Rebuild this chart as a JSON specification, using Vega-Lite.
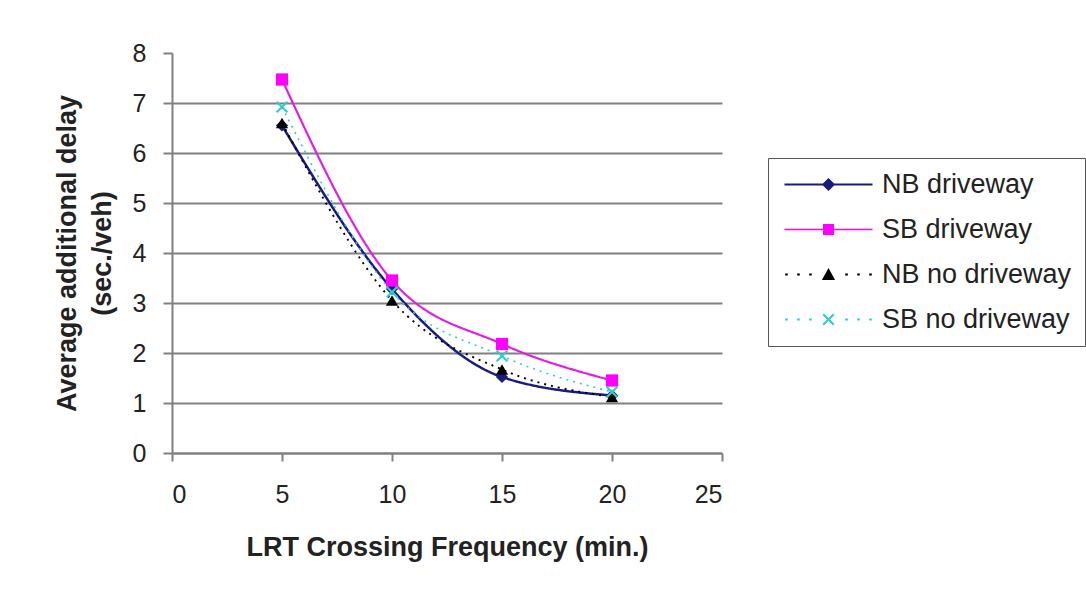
{
  "$schema": "https://vega.github.io/schema/vega-lite/v6.json",
  "width": 550,
  "height": 400,
  "autosize": {"type": "none"},
  "padding": {"left": 172, "top": 53, "right": 364, "bottom": 143},
  "background": "white",
  "data": {
    "values": [
      {"series": "NB driveway", "freq": 5, "delay": 6.55},
      {"series": "NB driveway", "freq": 10, "delay": 3.28},
      {"series": "NB driveway", "freq": 15, "delay": 1.52},
      {"series": "NB driveway", "freq": 20, "delay": 1.15},
      {"series": "SB driveway", "freq": 5, "delay": 7.47},
      {"series": "SB driveway", "freq": 10, "delay": 3.45},
      {"series": "SB driveway", "freq": 15, "delay": 2.18},
      {"series": "SB driveway", "freq": 20, "delay": 1.45},
      {"series": "NB no driveway", "freq": 5, "delay": 6.6},
      {"series": "NB no driveway", "freq": 10, "delay": 3.05},
      {"series": "NB no driveway", "freq": 15, "delay": 1.67},
      {"series": "NB no driveway", "freq": 20, "delay": 1.12},
      {"series": "SB no driveway", "freq": 5, "delay": 6.92},
      {"series": "SB no driveway", "freq": 10, "delay": 3.22},
      {"series": "SB no driveway", "freq": 15, "delay": 1.94},
      {"series": "SB no driveway", "freq": 20, "delay": 1.22}
    ]
  },
  "encoding": {
    "x": {
      "field": "freq",
      "type": "quantitative",
      "scale": {"domain": [0, 25], "nice": false, "zero": false},
      "axis": {
        "values": [0, 5, 10, 15, 20, 25],
        "grid": false,
        "title": "LRT Crossing Frequency (min.)",
        "domainColor": "#808080",
        "domainWidth": 2.5,
        "tickColor": "#808080",
        "tickWidth": 2,
        "tickSize": 8,
        "labelFontSize": 25,
        "labelPadding": 21,
        "labelColor": "#222222",
        "labelFont": "Liberation Sans",
        "titleFont": "Liberation Sans",
        "titleFontSize": 27,
        "titleFontWeight": "bold",
        "titleColor": "#222222",
        "titlePadding": 27
      }
    },
    "y": {
      "field": "delay",
      "type": "quantitative",
      "scale": {"domain": [0, 8], "nice": false},
      "axis": {
        "values": [0, 1, 2, 3, 4, 5, 6, 7, 8],
        "grid": true,
        "gridColor": {"condition": {"test": "datum.value == 8 || datum.value == 0", "value": "transparent"}, "value": "#808080"},
        "gridWidth": 2,
        "title": ["Average additional delay", "(sec./veh)"],
        "titleLineHeight": 35,
        "domainColor": "#808080",
        "domainWidth": 2,
        "tickColor": "#808080",
        "tickWidth": 2,
        "tickSize": 9,
        "labelFontSize": 25,
        "labelPadding": 17,
        "labelColor": "#222222",
        "labelFont": "Liberation Sans",
        "titleFont": "Liberation Sans",
        "titleFontSize": 27,
        "titleFontWeight": "bold",
        "titleColor": "#222222",
        "titlePadding": 16
      }
    }
  },
  "layer": [
    {
      "mark": {"type": "line", "interpolate": "monotone"},
      "encoding": {
        "detail": {"field": "series"},
        "color": {
          "field": "series",
          "type": "nominal",
          "scale": {"domain": ["NB driveway", "SB driveway", "NB no driveway", "SB no driveway"], "range": ["#1a1a80", "#e020e0", "#000000", "#33cccc"]},
          "legend": null
        },
        "strokeDash": {
          "field": "series",
          "type": "nominal",
          "scale": {"domain": ["NB driveway", "SB driveway", "NB no driveway", "SB no driveway"], "range": [[1, 0], [1, 0], [2, 5], [2, 5]]},
          "legend": null
        },
        "strokeWidth": {
          "field": "series",
          "type": "nominal",
          "scale": {"domain": ["NB driveway", "SB driveway", "NB no driveway", "SB no driveway"], "range": [2.5, 1.6, 2, 2]},
          "legend": null
        }
      }
    },
    {
      "mark": {"type": "point", "filled": true, "opacity": 1, "size": 150, "strokeWidth": 0},
      "encoding": {
        "color": {
          "field": "series",
          "type": "nominal",
          "scale": {"domain": ["NB driveway", "SB driveway", "NB no driveway", "SB no driveway"], "range": ["#1a1a80", "#ff00ff", "#000000", "#33cccc"]},
          "legend": null
        },
        "shape": {
          "field": "series",
          "type": "nominal",
          "scale": {"domain": ["NB driveway", "SB driveway", "NB no driveway", "SB no driveway"], "range": ["diamond", "square", "triangle-up", "M-1,-0.75L-0.75,-1L0,-0.25L0.75,-1L1,-0.75L0.25,0L1,0.75L0.75,1L0,0.25L-0.75,1L-1,0.75L-0.25,0Z"]},
          "legend": null
        }
      }
    },
    {
      "transform": [{"filter": "false"}],
      "mark": {"type": "point", "filled": true, "opacity": 1, "size": 484, "strokeWidth": 0},
      "encoding": {
        "color": {
          "field": "series",
          "type": "nominal",
          "scale": {"domain": ["NB driveway", "SB driveway", "NB no driveway", "SB no driveway"], "range": ["#1a1a80", "#ff00ff", "#000000", "#33cccc"]},
          "legend": {
            "title": null,
            "orient": "none",
            "legendX": 596,
            "legendY": 105,
            "padding": 13,
            "strokeColor": "#555555",
            "symbolSize": 484,
            "symbolOffset": 34,
            "symbolStrokeWidth": 0,
            "symbolOpacity": 1,
            "labelOffset": 40,
            "labelFontSize": 27,
            "labelFont": "Liberation Sans",
            "labelColor": "#222222",
            "labelLimit": 400,
            "rowPadding": 17
          }
        },
        "shape": {
          "field": "series",
          "type": "nominal",
          "scale": {
            "domain": ["NB driveway", "SB driveway", "NB no driveway", "SB no driveway"],
            "range": [
              "M-4,-0.1L4,-0.1L4,0.1L-4,0.1ZM0,-0.6L0.6,0L0,0.6L-0.6,0Z",
              "M-4,-0.07L4,-0.07L4,0.07L-4,0.07ZM-0.5,-0.5L0.5,-0.5L0.5,0.5L-0.5,0.5Z",
              "M-3.94,-0.09L-3.7,-0.09L-3.7,0.09L-3.94,0.09ZM-2.85,-0.09L-2.61,-0.09L-2.61,0.09L-2.85,0.09ZM-1.76,-0.09L-1.52,-0.09L-1.52,0.09L-1.76,0.09ZM1.52,-0.09L1.76,-0.09L1.76,0.09L1.52,0.09ZM2.61,-0.09L2.85,-0.09L2.85,0.09L2.61,0.09ZM3.7,-0.09L3.94,-0.09L3.94,0.09L3.7,0.09ZM0,-0.6L0.6,0.5L-0.6,0.5Z",
              "M-3.94,-0.09L-3.7,-0.09L-3.7,0.09L-3.94,0.09ZM-2.85,-0.09L-2.61,-0.09L-2.61,0.09L-2.85,0.09ZM-1.76,-0.09L-1.52,-0.09L-1.52,0.09L-1.76,0.09ZM1.52,-0.09L1.76,-0.09L1.76,0.09L1.52,0.09ZM2.61,-0.09L2.85,-0.09L2.85,0.09L2.61,0.09ZM3.7,-0.09L3.94,-0.09L3.94,0.09L3.7,0.09ZM-0.55,-0.41L-0.41,-0.55L0,-0.14L0.41,-0.55L0.55,-0.41L0.14,0L0.55,0.41L0.41,0.55L0,0.14L-0.41,0.55L-0.55,0.41L-0.14,0Z"
            ]
          },
          "legend": {
            "title": null,
            "orient": "none",
            "legendX": 596,
            "legendY": 105
          }
        }
      }
    }
  ],
  "resolve": {"scale": {"color": "independent", "shape": "independent"}},
  "config": {
    "view": {"stroke": null},
    "font": "Liberation Sans"
  }
}
